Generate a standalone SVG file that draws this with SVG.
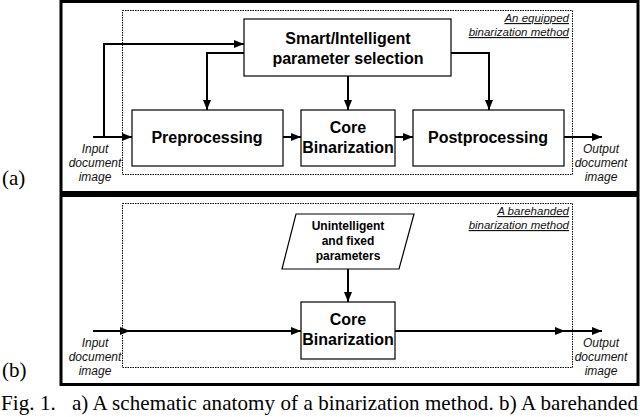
<svg xmlns="http://www.w3.org/2000/svg" width="640" height="417" viewBox="0 0 640 417">
<style>
.frame{fill:none;stroke:#000;stroke-width:3}
.dot{fill:none;stroke:#000;stroke-width:1;stroke-dasharray:1.5 1}
.box{fill:#fff;stroke:#000;stroke-width:1.2}
.ln{fill:none;stroke:#000;stroke-width:2;marker-end:url(#ah)}
.b{font-family:"Liberation Sans",Arial,sans-serif;font-weight:bold;font-size:16px;text-anchor:middle}
.s{font-family:"Liberation Sans",Arial,sans-serif;font-weight:bold;font-size:12px;text-anchor:middle}
.i{font-family:"Liberation Sans",Arial,sans-serif;font-style:italic;font-size:12px;text-anchor:middle;fill:#111}
.u{font-family:"Liberation Sans",Arial,sans-serif;font-style:italic;font-size:11.5px;text-anchor:end;text-decoration:underline;fill:#111}
.serif{font-family:"Liberation Serif","Times New Roman",serif;font-size:21px}
</style>
<defs>
<marker id="ah" viewBox="0 0 10 8" refX="10" refY="4" markerWidth="5" markerHeight="4" orient="auto" markerUnits="strokeWidth">
<path d="M0,0 L10,4 L0,8 z" fill="#000"/>
</marker>
</defs>
<rect width="640" height="417" fill="#fff"/>
<!-- frames -->
<rect class="frame" x="61" y="1.5" width="577" height="191"/>
<rect class="frame" x="61" y="195.5" width="577" height="189"/>
<rect class="dot" x="122.5" y="10.5" width="450" height="164"/>
<rect class="dot" x="122.5" y="203.5" width="450" height="164"/>
<text class="serif" x="2" y="185">(a)</text>
<text class="serif" x="2" y="377">(b)</text>
<text class="u" x="569" y="22">An equipped</text>
<text class="u" x="569" y="36">binarization method</text>
<text class="u" x="569" y="215">A barehanded</text>
<text class="u" x="569" y="229">binarization method</text>
<!-- connectors -->
<g id="connectors">
<path class="ln" d="M93,137 H132"/>
<path class="ln" d="M104,137 V44 H244"/>
<path class="ln" d="M244,53 H207 V110"/>
<path class="ln" d="M348,76 V110"/>
<path class="ln" d="M451,53 H489 V110"/>
<path class="ln" d="M283,137 H301"/>
<path class="ln" d="M395,137 H413"/>
<path class="ln" d="M564,137 H602"/>
<path class="ln" d="M348,269 V302"/>
<path class="ln" d="M93,331 H130"/>
<path class="ln" d="M128,331 H301"/>
<path class="ln" d="M395,331 H565"/>
<path class="ln" d="M560,331 H602"/>
</g>
<!-- io labels -->
<g id="input-a"><text class="i" x="95" y="153">Input</text><text class="i" x="95" y="167">document</text><text class="i" x="95" y="181">image</text></g>
<g id="output-a"><text class="i" x="601" y="153">Output</text><text class="i" x="601" y="167">document</text><text class="i" x="601" y="181">image</text></g>
<g id="input-b"><text class="i" x="95" y="347">Input</text><text class="i" x="95" y="361">document</text><text class="i" x="95" y="375">image</text></g>
<g id="output-b"><text class="i" x="601" y="347">Output</text><text class="i" x="601" y="361">document</text><text class="i" x="601" y="375">image</text></g>
<!-- nodes -->
<g id="smart"><rect class="box" x="244" y="19" width="207" height="57"/><text class="b" x="348" y="44">Smart/Intelligent</text><text class="b" x="348" y="64">parameter selection</text></g>
<g id="preprocessing"><rect class="box" x="132" y="110" width="151" height="56"/><text class="b" x="207" y="143">Preprocessing</text></g>
<g id="core-a"><rect class="box" x="301" y="110" width="94" height="56"/><text class="b" x="348" y="133">Core</text><text class="b" x="348" y="153">Binarization</text></g>
<g id="postprocessing"><rect class="box" x="413" y="110" width="151" height="56"/><text class="b" x="488" y="143">Postprocessing</text></g>
<g id="params"><polygon class="box" points="296,214 414,214 399,269 282,269"/><text class="s" x="348" y="230">Unintelligent</text><text class="s" x="348" y="245">and fixed</text><text class="s" x="348" y="260">parameters</text></g>
<g id="core-b"><rect class="box" x="301" y="302" width="94" height="57"/><text class="b" x="348" y="325">Core</text><text class="b" x="348" y="345">Binarization</text></g>
<text class="serif" x="1" y="410" font-size="18" textLength="637" lengthAdjust="spacing" xml:space="preserve">Fig. 1.   a) A schematic anatomy of a binarization method. b) A barehanded</text>
</svg>
